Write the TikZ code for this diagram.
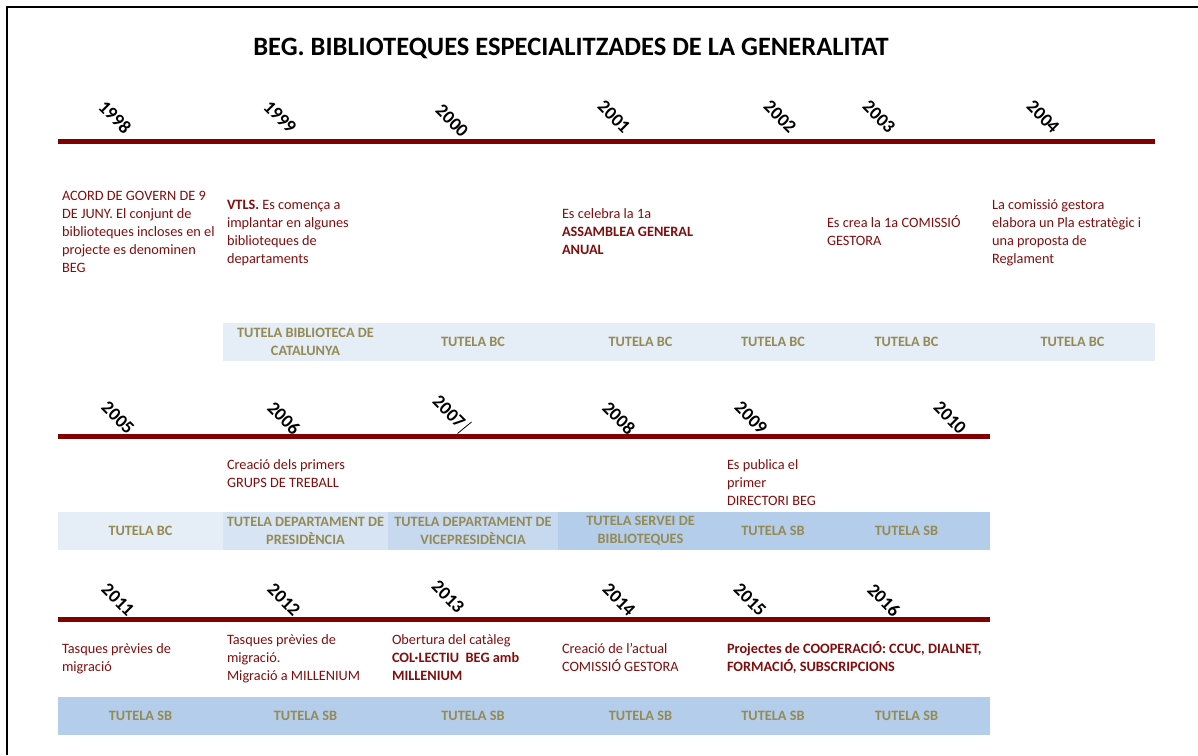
\documentclass[tikz,border=0pt]{standalone}
\usepackage{fontspec}
\setmainfont{Carlito}
\usepackage{tikz}
\usetikzlibrary{positioning}

\definecolor{begred}{RGB}{128,0,0}
\definecolor{evtext}{RGB}{128,14,14}
\definecolor{tutext}{RGB}{148,138,84}
\definecolor{tuA}{RGB}{229,237,247}
\definecolor{tuB}{RGB}{215,228,243}
\definecolor{tuC}{RGB}{199,217,239}
\definecolor{tuD}{RGB}{180,205,234}

\begin{document}
\begin{tikzpicture}[x=1pt,y=-1pt,
        every node/.style={inner sep=0pt,outer sep=0pt},
        year/.style={font=\fontsize{18.5}{22}\selectfont\bfseries,rotate=-45},
        event/.style={font=\fontsize{14.3}{18}\selectfont,text=evtext,align=left,anchor=base west},
        cell/.style={font=\fontsize{14.3}{18}\selectfont\bfseries,text=tutext,align=center,
                     minimum height=38pt,fill=#1},
        cell/.default=tuA,
        timeline/.style={draw=begred,line width=5pt}]

      \useasboundingbox (0,0) rectangle (1198,755);
      \draw[line width=2pt] (7,755) -- (7,7) -- (1198,7);

      \node[font=\fontsize{26.5}{30}\selectfont\bfseries] (title) at (571,48)
            {BEG. BIBLIOTEQUES ESPECIALITZADES DE LA GENERALITAT};

      % first row: 1998 - 2004
      % (event nodes sit on the baseline of their last line)
      \coordinate (r1_w) at (58,141);
      \coordinate (r1_e) at (1155,141);
      \draw[timeline] (r1_w) -- (r1_e);

      \node[year] (y_1998) at (115,117) {1998};
      \node[year] (y_1999) at (280,117) {1999};
      \node[year] (y_2000) at (452,121) {2000};
      \node[year] (y_2001) at (614,117) {2001};
      \node[year] (y_2002) at (780,117) {2002};
      \node[year] (y_2003) at (879,117) {2003};
      \node[year] (y_2004) at (1043,117) {2004};

      \node[event] (ev_1998) at (62,272.5) {ACORD DE GOVERN DE 9\\DE JUNY. El conjunt de\\biblioteques incloses en el\\projecte es denominen\\BEG};
      \node[event] (ev_1999) at (227,263.5) {\textbf{VTLS.} Es comença a\\implantar en algunes\\biblioteques de\\departaments};
      \node[event] (ev_2001) at (562,254.5) {Es celebra la 1a\\\textbf{ASSAMBLEA GENERAL}\\\textbf{ANUAL}};
      \node[event] (ev_2003) at (827,245.5) {Es crea la 1a COMISSIÓ\\GESTORA};
      \node[event] (ev_2004) at (992,263.5) {La comissió gestora\\elabora un Pla estratègic i\\una proposta de\\Reglament};

      \node[cell,minimum width=165pt] (tu_1999) at (305.5,342) {TUTELA BIBLIOTECA DE\\CATALUNYA};
      \node[cell,minimum width=170pt,right=0pt of tu_1999] (tu_2000) {TUTELA BC};
      \node[cell,minimum width=165pt,right=0pt of tu_2000] (tu_2001) {TUTELA BC};
      \node[cell,minimum width=100pt,right=0pt of tu_2001] (tu_2002) {TUTELA BC};
      \node[cell,minimum width=167pt,right=0pt of tu_2002] (tu_2003) {TUTELA BC};
      \node[cell,minimum width=165pt,right=0pt of tu_2003] (tu_2004) {TUTELA BC};

      % second row: 2005 - 2010
      \coordinate (r2_w) at (58,436);
      \coordinate (r2_e) at (990,436);
      \draw[timeline] (r2_w) -- (r2_e);

      \node[year] (y_2005) at (118,418) {2005};
      \node[year] (y_2006) at (284,418) {2006};
      \node[year] (y_2007) at (449,412) {2007};
      \node[year] (y_2008) at (619,418) {2008};
      \node[year] (y_2009) at (751,418) {2009};
      \node[year] (y_2010) at (950,418) {2010};
      \coordinate (tick_a) at (457.5,433.5);
      \coordinate (tick_b) at (471.5,422);
      \draw[line width=0.8pt] (tick_a) -- (tick_b);

      \node[event] (ev_2006) at (227,487.5) {Creació dels primers\\GRUPS DE TREBALL};
      \node[event] (ev_2009) at (727,505.5) {Es publica el\\primer\\DIRECTORI BEG};

      \node[cell,minimum width=165pt] (tu_2005) at (140.5,531) {TUTELA BC};
      \node[cell=tuB,minimum width=165pt,right=0pt of tu_2005] (tu_2006) {TUTELA DEPARTAMENT DE\\PRESIDÈNCIA};
      \node[cell=tuC,minimum width=170pt,right=0pt of tu_2006] (tu_2007) {TUTELA DEPARTAMENT DE\\VICEPRESIDÈNCIA};
      \node[cell=tuD,minimum width=165pt,right=0pt of tu_2007] (tu_2008) {TUTELA SERVEI DE\\BIBLIOTEQUES};
      \node[cell=tuD,minimum width=100pt,right=0pt of tu_2008] (tu_2009) {TUTELA SB};
      \node[cell=tuD,minimum width=167pt,right=0pt of tu_2009] (tu_2010) {TUTELA SB};

      % third row: 2011 - 2016
      \coordinate (r3_w) at (58,619);
      \coordinate (r3_e) at (990,619);
      \draw[timeline] (r3_w) -- (r3_e);

      \node[year] (y_2011) at (118,600) {2011};
      \node[year] (y_2012) at (284,600) {2012};
      \node[year] (y_2013) at (448,597) {2013};
      \node[year] (y_2014) at (619,600) {2014};
      \node[year] (y_2015) at (750,600) {2015};
      \node[year] (y_2016) at (884,600) {2016};

      \node[event] (ev_2011) at (62,671.5) {Tasques prèvies de\\migració};
      \node[event] (ev_2012) at (227,680.5) {Tasques prèvies de\\migració.\\Migració a MILLENIUM};
      \node[event] (ev_2013) at (392,680.5) {Obertura del catàleg\\\textbf{COL·LECTIU\ \ BEG amb}\\\textbf{MILLENIUM}};
      \node[event] (ev_2014) at (562,671.5) {Creació de l{\char"0027}actual\\COMISSIÓ GESTORA};
      \node[event,font=\fontsize{14.3}{18}\selectfont\bfseries] (ev_2015) at (727,671.5) {Projectes de COOPERACIÓ: CCUC, DIALNET,\\FORMACIÓ, SUBSCRIPCIONS};

      \node[cell=tuD,minimum width=165pt] (tu_2011) at (140.5,716) {TUTELA SB};
      \node[cell=tuD,minimum width=165pt,right=0pt of tu_2011] (tu_2012) {TUTELA SB};
      \node[cell=tuD,minimum width=170pt,right=0pt of tu_2012] (tu_2013) {TUTELA SB};
      \node[cell=tuD,minimum width=165pt,right=0pt of tu_2013] (tu_2014) {TUTELA SB};
      \node[cell=tuD,minimum width=100pt,right=0pt of tu_2014] (tu_2015) {TUTELA SB};
      \node[cell=tuD,minimum width=167pt,right=0pt of tu_2015] (tu_2016) {TUTELA SB};
    \end{tikzpicture}
\end{document}
